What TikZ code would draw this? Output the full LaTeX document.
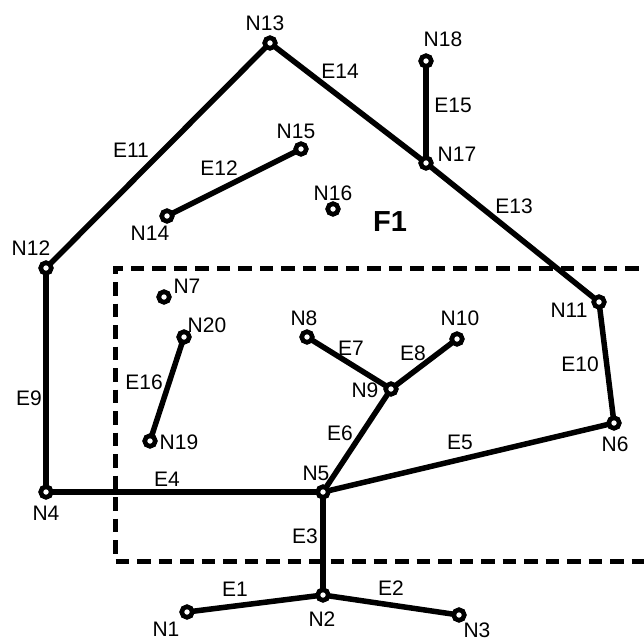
\documentclass[tikz,border=0pt]{standalone}
\usepackage{fontspec}
\setmainfont{Liberation Sans}
\begin{document}
\begin{tikzpicture}[x=1pt,y=-1pt,
  vert/.style={circle,draw,fill=white,line width=4.5pt,minimum size=10.5pt,inner sep=0pt},
  edge/.style={line width=5.5pt},
  lbl/.style={inner sep=0pt,font=\fontsize{21}{25}\selectfont},
  region/.style={line width=5pt,dash pattern=on 13.5pt off 8pt}]
\useasboundingbox (0,0) rectangle (644,640);
\begin{scope}
\clip (0,0) rectangle (644,640);
\draw[region] (660,268) -- (115,268) -- (115,561) -- (660,561);
\end{scope}
% nodes
\node[vert] (n1) at (187,612) {};
\node[vert] (n2) at (323,595) {};
\node[vert] (n3) at (459,615) {};
\node[vert] (n4) at (46,492) {};
\node[vert] (n5) at (323,492) {};
\node[vert] (n6) at (614,423) {};
\node[vert] (n7) at (164,297) {};
\node[vert] (n8) at (307,337) {};
\node[vert] (n9) at (391,389) {};
\node[vert] (n10) at (457,339) {};
\node[vert] (n11) at (599,302) {};
\node[vert] (n12) at (46,268) {};
\node[vert] (n13) at (270,43) {};
\node[vert] (n14) at (167,216) {};
\node[vert] (n15) at (301,149) {};
\node[vert] (n16) at (333,209) {};
\node[vert] (n17) at (426,163) {};
\node[vert] (n18) at (426,61) {};
\node[vert] (n19) at (150,441) {};
\node[vert] (n20) at (184,337) {};
% edges
\draw[edge] (n1.center) -- (n2.center);
\draw[edge] (n2.center) -- (n3.center);
\draw[edge] (n5.center) -- (n2.center);
\draw[edge] (n4.center) -- (n5.center);
\draw[edge] (n5.center) -- (n6.center);
\draw[edge] (n5.center) -- (n9.center);
\draw[edge] (n8.center) -- (n9.center);
\draw[edge] (n9.center) -- (n10.center);
\draw[edge] (n12.center) -- (n4.center);
\draw[edge] (n11.center) -- (n6.center);
\draw[edge] (n12.center) -- (n13.center);
\draw[edge] (n14.center) -- (n15.center);
\draw[edge] (n17.center) -- (n11.center);
\draw[edge] (n13.center) -- (n17.center);
\draw[edge] (n18.center) -- (n17.center);
\draw[edge] (n19.center) -- (n20.center);
% redraw vertices on top of the edges
\foreach \v in {n1,n2,n3,n4,n5,n6,n7,n8,n9,n10,n11,n12,n13,n14,n15,n16,n17,n18,n19,n20}
  \node[vert] at (\v.center) {};
% vertex labels
\node[lbl] (l1) at (166,629) {N1};
\node[lbl] (l2) at (322,619) {N2};
\node[lbl] (l3) at (477,630) {N3};
\node[lbl] (l4) at (46,513) {N4};
\node[lbl] (l5) at (316,473) {N5};
\node[lbl] (l6) at (615,444) {N6};
\node[lbl] (l7) at (187,286) {N7};
\node[lbl] (l8) at (304,318) {N8};
\node[lbl] (l9) at (365,390) {N9};
\node[lbl] (l10) at (460,318) {N10};
\node[lbl] (l11) at (569,310) {N11};
\node[lbl] (l12) at (31,248) {N12};
\node[lbl] (l13) at (265,23) {N13};
\node[lbl] (l14) at (150,233) {N14};
\node[lbl] (l15) at (296,131) {N15};
\node[lbl] (l16) at (333,193) {N16};
\node[lbl] (l17) at (457,154) {N17};
\node[lbl] (l18) at (443,39) {N18};
\node[lbl] (l19) at (179,442) {N19};
\node[lbl] (l20) at (207,325) {N20};
% edge labels
\node[lbl] (e1) at (235,589) {E1};
\node[lbl] (e2) at (391,588) {E2};
\node[lbl] (e3) at (305,536) {E3};
\node[lbl] (e4) at (167,479) {E4};
\node[lbl] (e5) at (460,442) {E5};
\node[lbl] (e6) at (340,433) {E6};
\node[lbl] (e7) at (351,348) {E7};
\node[lbl] (e8) at (413,353) {E8};
\node[lbl] (e9) at (29,398) {E9};
\node[lbl] (e10) at (580,364) {E10};
\node[lbl] (e11) at (131,150) {E11};
\node[lbl] (e12) at (219,168) {E12};
\node[lbl] (e13) at (514,206) {E13};
\node[lbl] (e14) at (340,71) {E14};
\node[lbl] (e15) at (453,105) {E15};
\node[lbl] (e16) at (144,382) {E16};
\node[lbl,font=\fontsize{29}{33}\selectfont\bfseries] (f1) at (390,222) {F1};
\end{tikzpicture}
\end{document}
